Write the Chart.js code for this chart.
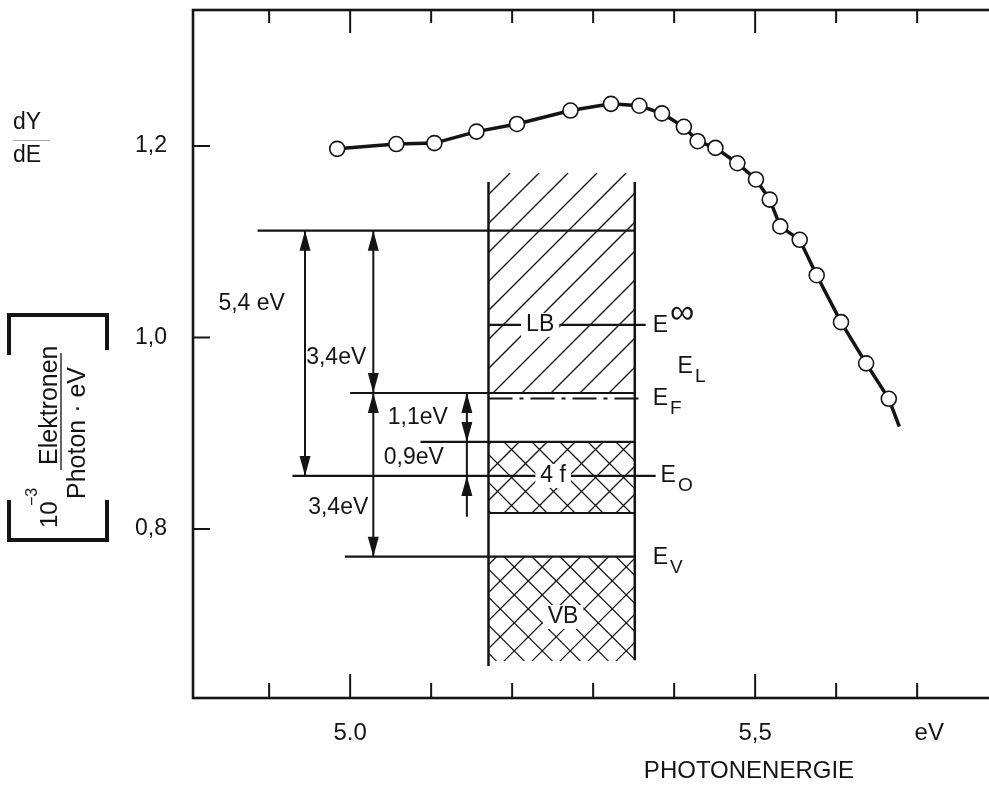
<!DOCTYPE html>
<html>
<head>
<meta charset="utf-8">
<script src="https://cdn.jsdelivr.net/npm/chart.js@4.4.1/dist/chart.umd.min.js"></script>
<style>
  html, body { margin: 0; padding: 0; background: #fff; overflow: hidden; }
  #wrap { width: 1010px; height: 785px; }
</style>
</head>
<body>
<div id="wrap"><canvas id="chart" width="1010" height="785"></canvas></div>
<script>
// measured curve: photon energy (eV) and dY/dE, last pair is where the drawn line stops (no marker)
var energy = [4.984, 5.057, 5.104, 5.156, 5.206, 5.272, 5.322, 5.357, 5.385, 5.412, 5.429,
              5.451, 5.478, 5.501, 5.518, 5.531, 5.555, 5.576, 5.606, 5.637, 5.665, 5.678];
var dYdE   = [1.197, 1.202, 1.203, 1.215, 1.223, 1.237, 1.244, 1.242, 1.234, 1.220, 1.205,
              1.198, 1.182, 1.165, 1.144, 1.116, 1.102, 1.065, 1.016, 0.973, 0.936, 0.907];
var hasMarker = energy.map(function (v, i) { return i < energy.length - 1; });

var xRange = [4.806, 5.8034];
var yRange = [0.6235, 1.342];
var xTicks = [4.9, 5.0, 5.1, 5.2, 5.3, 5.4, 5.5, 5.6, 5.7];
var xMajor = [5.0, 5.5];
var xLabelValues = [5.0, 5.5, 5.715];
var xLabelText   = ['5.0', '5,5', 'eV'];
var yTicks = [0.8, 1.0, 1.2];
var yTickText = ['0,8', '1,0', '1,2'];

// energy level scheme, in the same plot units
var bandEdges = [5.1708, 5.3514];     // walls of the band column
var bandTop = 1.1624, bandBottom = [0.657, 0.663];
var levelY    = [1.1115, 1.0131, 0.942, 0.8909, 0.8554, 0.8167, 0.7711];
var levelFrom = [4.8857, 5.1708, 5.0,   5.0869, 4.9287, 5.1708, 4.9935];
var levelTo   = [5.3514, 5.3649, 5.3514, 5.3514, 5.3772, 5.3514, 5.3514];
var fermiDash = { y: 0.9363, from: 5.1708, to: 5.3575 };
var hatchLB = [1.1718, 0.942];
var hatch4f = [0.8909, 0.8167];
var hatchVB = [0.7711, 0.662];

var arrowX    = [4.9443, 5.0286, 5.0286, 5.1441, 5.1441];
var arrowTop  = [1.1115, 1.1115, 0.942, 0.942, 0.8554];
var arrowBot  = [0.8554, 0.942, 0.7711, 0.8554, 0.8128];
var headUp    = [1.1115, 1.1115, 0.942, 0.942, 0.8554];
var headDown  = [0.8554, 0.942, 0.7711, 0.8909, null];

var gapText = ['5,4 eV', '3,4eV', '1,1eV', '0,9eV', '3,4eV'];
var gapX    = [4.8784, 4.9828, 5.0835, 5.0786, 4.9853];
var gapY    = [1.035, 0.9786, 0.9159, 0.8742, 0.8219];

var bandText = ['LB', '4 f', 'VB'];
var bandX    = [5.2346, 5.2506, 5.2629];
var bandY    = [1.0131, 0.8554, 0.7081];

var eSub  = ['\u221E', 'L', 'F', 'O', 'V'];
var eX    = [5.3735, 5.4042, 5.3735, 5.3833, 5.3735];
var eY    = [1.012, 0.9692, 0.9358, 0.8554, 0.7697];

var ink = '#141414';
var FONT = '"Liberation Sans", Arial, sans-serif';

function hatch(c, x0, y0, x1, y1, step, dirs) {
  c.save();
  c.beginPath(); c.rect(x0, y0, x1 - x0, y1 - y0); c.clip();
  c.lineWidth = 1.3;
  c.beginPath();
  var h = y1 - y0;
  dirs.forEach(function (d) {
    var start = Math.floor((x0 - h) / step) * step;
    for (var s = start; s < x1 + h; s += step) {
      if (d > 0) { c.moveTo(s, y1); c.lineTo(s + h, y0); }
      else { c.moveTo(s, y0); c.lineTo(s + h, y1); }
    }
  });
  c.stroke();
  c.restore();
}

function head(c, x, tip, dir) {
  c.beginPath();
  c.moveTo(x, tip);
  c.lineTo(x - 5.5, tip - dir * 20);
  c.lineTo(x + 5.5, tip - dir * 20);
  c.closePath();
  c.fill();
}

function boxedText(c, t, x, y) {
  var w = c.measureText(t).width;
  c.fillStyle = '#fff';
  c.fillRect(x - w / 2 - 5, y - 12, w + 10, 24);
  c.fillStyle = ink;
  c.fillText(t, x, y);
}

var diagram = {
  id: 'diagram',
  beforeDatasetsDraw: function (chart) {
    var c = chart.ctx, xs = chart.scales.x, ys = chart.scales.y;
    var X = function (v) { return xs.getPixelForValue(v); };
    var Y = function (v) { return ys.getPixelForValue(v); };
    var bl = X(bandEdges[0]), br = X(bandEdges[1]);
    c.save();
    c.strokeStyle = ink; c.fillStyle = ink;

    hatch(c, bl, Y(hatchLB[0]), br, Y(hatchLB[1]), 29, [1]);
    hatch(c, bl, Y(hatch4f[0]), br, Y(hatch4f[1]), 28, [1, -1]);
    hatch(c, bl, Y(hatchVB[0]), br, Y(hatchVB[1]), 28, [1, -1]);

    c.lineWidth = 2.5;
    c.beginPath();
    c.moveTo(bl, Y(bandTop)); c.lineTo(bl, Y(bandBottom[0]));
    c.moveTo(br, Y(bandTop)); c.lineTo(br, Y(bandBottom[1]));
    c.stroke();

    c.lineWidth = 2.2;
    c.beginPath();
    levelY.forEach(function (v, i) {
      c.moveTo(X(levelFrom[i]), Y(v)); c.lineTo(X(levelTo[i]), Y(v));
    });
    c.stroke();

    c.save();
    c.setLineDash([24, 7, 4, 7]);
    c.lineWidth = 2;
    c.beginPath();
    c.moveTo(X(fermiDash.from), Y(fermiDash.y)); c.lineTo(X(fermiDash.to), Y(fermiDash.y));
    c.stroke();
    c.restore();

    c.lineWidth = 2;
    arrowX.forEach(function (v, i) {
      var x = X(v);
      c.beginPath(); c.moveTo(x, Y(arrowTop[i])); c.lineTo(x, Y(arrowBot[i])); c.stroke();
      if (headUp[i] !== null) head(c, x, Y(headUp[i]), -1);
      if (headDown[i] !== null) head(c, x, Y(headDown[i]), 1);
    });

    c.font = '23px ' + FONT;
    c.textAlign = 'center'; c.textBaseline = 'middle';
    gapText.forEach(function (t, i) { c.fillText(t, X(gapX[i]), Y(gapY[i])); });
    bandText.forEach(function (t, i) { boxedText(c, t, X(bandX[i]), Y(bandY[i])); });

    c.textAlign = 'left';
    eSub.forEach(function (s, i) {
      var x = X(eX[i]), y = Y(eY[i]);
      c.font = '23px ' + FONT;
      c.fillText('E', x, y);
      var w = c.measureText('E').width;
      if (s === '\u221E') {
        c.font = '34px ' + FONT;
        c.fillText(s, x + w + 2, y - 12);
      } else {
        c.font = '19px ' + FONT;
        c.fillText(s, x + w + 2, y + 10);
      }
    });
    c.restore();
  },
  afterDraw: function (chart) {
    var c = chart.ctx, a = chart.chartArea, xs = chart.scales.x, ys = chart.scales.y;
    c.save();
    c.strokeStyle = ink; c.fillStyle = ink;
    c.lineWidth = 2.6;
    c.strokeRect(a.left, a.top, a.right - a.left, a.bottom - a.top);

    c.lineWidth = 2;
    c.beginPath();
    xTicks.forEach(function (v) {
      var x = xs.getPixelForValue(v);
      var major = xMajor.some(function (m) { return Math.abs(m - v) < 1e-9; });
      c.moveTo(x, a.bottom); c.lineTo(x, a.bottom - (major ? 24 : 15));
      c.moveTo(x, a.top); c.lineTo(x, a.top + (major ? 23 : 13));
    });
    yTicks.forEach(function (v) {
      var y = ys.getPixelForValue(v);
      c.moveTo(a.left, y); c.lineTo(a.left + 17, y);
    });
    c.stroke();

    // axis titles
    c.font = '24px ' + FONT;
    c.textAlign = 'center'; c.textBaseline = 'middle';
    c.fillText('PHOTONENERGIE', 749, 771);

    c.textAlign = 'left';
    c.font = '23px ' + FONT;
    c.fillText('dY', 13, 123);
    c.fillText('dE', 13, 156);
    c.lineWidth = 1;
    c.strokeStyle = '#aaa';
    c.beginPath(); c.moveTo(13, 140.5); c.lineTo(50, 140.5); c.stroke();

    c.strokeStyle = ink;
    c.lineWidth = 4;
    c.beginPath();
    c.moveTo(9, 355); c.lineTo(9, 315); c.lineTo(107, 315); c.lineTo(107, 350);
    c.moveTo(9, 500); c.lineTo(9, 540); c.lineTo(107, 540); c.lineTo(107, 500);
    c.stroke();

    c.save();
    c.rotate(-Math.PI / 2);
    c.textBaseline = 'alphabetic';
    c.font = '24px ' + FONT;
    c.fillText('10', -528, 57);
    c.font = '16px ' + FONT;
    c.fillText('\u22123', -506, 37);
    c.font = '25px ' + FONT;
    c.fillText('Elektronen', -465, 57);
    c.fillText('Photon \u00B7 eV', -499, 85);
    c.lineWidth = 1.3;
    c.beginPath(); c.moveTo(-470, 61); c.lineTo(-353, 61); c.stroke();
    c.restore();

    c.restore();
  }
};

Chart.defaults.font.family = FONT;
Chart.defaults.color = ink;

new Chart(document.getElementById('chart').getContext('2d'), {
  type: 'scatter',
  data: {
    datasets: [{
      data: energy.map(function (v, i) { return { x: v, y: dYdE[i] }; }),
      showLine: true,
      borderColor: ink,
      borderWidth: 3.5,
      pointRadius: hasMarker.map(function (m) { return m ? 7.5 : 0; }),
      pointBackgroundColor: '#fff',
      pointBorderColor: ink,
      pointBorderWidth: 1.6
    }]
  },
  options: {
    responsive: false,
    animation: false,
    layout: { padding: { top: 10, right: 5, left: 0, bottom: 0 } },
    plugins: { legend: { display: false }, tooltip: { enabled: false } },
    scales: {
      x: {
        type: 'linear',
        min: xRange[0], max: xRange[1],
        grid: { display: false, drawTicks: false },
        border: { display: false },
        afterBuildTicks: function (s) { s.ticks = xLabelValues.map(function (v) { return { value: v }; }); },
        afterFit: function (s) { s.height = 87; s.paddingLeft = 0; s.paddingRight = 0; },
        ticks: {
          autoSkip: false, maxRotation: 0, padding: 21,
          font: { size: 24 },
          callback: function (v) {
            var i = xLabelValues.findIndex(function (m) { return Math.abs(m - v) < 1e-9; });
            return i < 0 ? '' : xLabelText[i];
          }
        }
      },
      y: {
        min: yRange[0], max: yRange[1],
        grid: { display: false, drawTicks: false },
        border: { display: false },
        afterBuildTicks: function (s) { s.ticks = yTicks.map(function (v) { return { value: v }; }); },
        afterFit: function (s) { s.width = 193; s.paddingTop = 0; s.paddingBottom = 0; },
        ticks: {
          padding: 26,
          font: { size: 23 },
          callback: function (v) {
            var i = yTicks.findIndex(function (m) { return Math.abs(m - v) < 1e-9; });
            return i < 0 ? '' : yTickText[i];
          }
        }
      }
    }
  },
  plugins: [diagram]
});
</script>
</body>
</html>
